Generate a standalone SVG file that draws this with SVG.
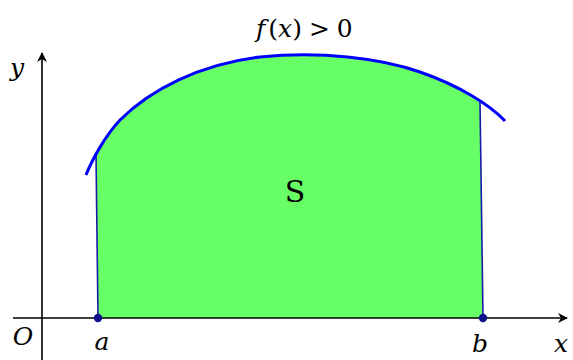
<svg xmlns="http://www.w3.org/2000/svg" width="573" height="360" viewBox="0 0 573 360">
<defs>
<marker id="arr" markerWidth="10" markerHeight="10" refX="9" refY="5" orient="auto" markerUnits="userSpaceOnUse">
<path d="M0,0 L10,5 L0,10 L3,5 Z" fill="#000"/>
</marker>
<clipPath id="band">
<polygon points="94.1,0 478.6,0 483,318 98,318"/>
</clipPath>
<style>
.lbl{font-family:"DejaVu Serif","Liberation Serif",serif;font-style:italic;font-size:25px;fill:#000}
.up{font-style:normal}
.axis{stroke:#000;stroke-width:1.6;fill:none}
.side{stroke:#1a1aaa;stroke-width:1.6;fill:none}
.pt{fill:#10108a}
</style>
</defs>
<g id="region">
<path clip-path="url(#band)" d="M86,175 C92,160 105,136 120,120 C150,90 200,64 260,57 C320,51 380,58 420,72 C460,86 490,105 505,121 L505,318 L86,318 Z" fill="#66ff66" stroke="none"/>
</g>
<g id="connectors">
<line class="axis" x1="42" y1="360" x2="42" y2="53" marker-end="url(#arr)"/>
<line class="axis" x1="13" y1="318" x2="567" y2="318" marker-end="url(#arr)"/>
<line class="side" x1="96" y1="154" x2="98" y2="318"/>
<line class="side" x1="480" y1="101" x2="483" y2="318"/>
</g>
<g id="curve">
<path d="M86,175 C92,160 105,136 120,120 C150,90 200,64 260,57 C320,51 380,58 420,72 C460,86 490,105 505,121" fill="none" stroke="#0000ff" stroke-width="3"/>
</g>
<g id="point-a"><circle class="pt" cx="98" cy="318" r="4.2"/></g>
<g id="point-b"><circle class="pt" cx="483" cy="318" r="4.2"/></g>
<g id="labels">
<text class="lbl" x="256" y="37">f<tspan class="up" dx="3">(</tspan>x<tspan class="up">)</tspan><tspan class="up" dx="7">&gt;</tspan><tspan class="up" dx="7">0</tspan></text>
<text class="lbl" x="17" y="76" text-anchor="middle">y</text>
<text class="lbl" x="23" y="345" text-anchor="middle">O</text>
<text class="lbl" x="102" y="350" text-anchor="middle">a</text>
<text class="lbl" x="480" y="352" text-anchor="middle">b</text>
<text class="lbl" x="561" y="352" text-anchor="middle">x</text>
<text class="lbl up" x="295" y="202" text-anchor="middle" style="font-size:30px">S</text>
</g>
</svg>
